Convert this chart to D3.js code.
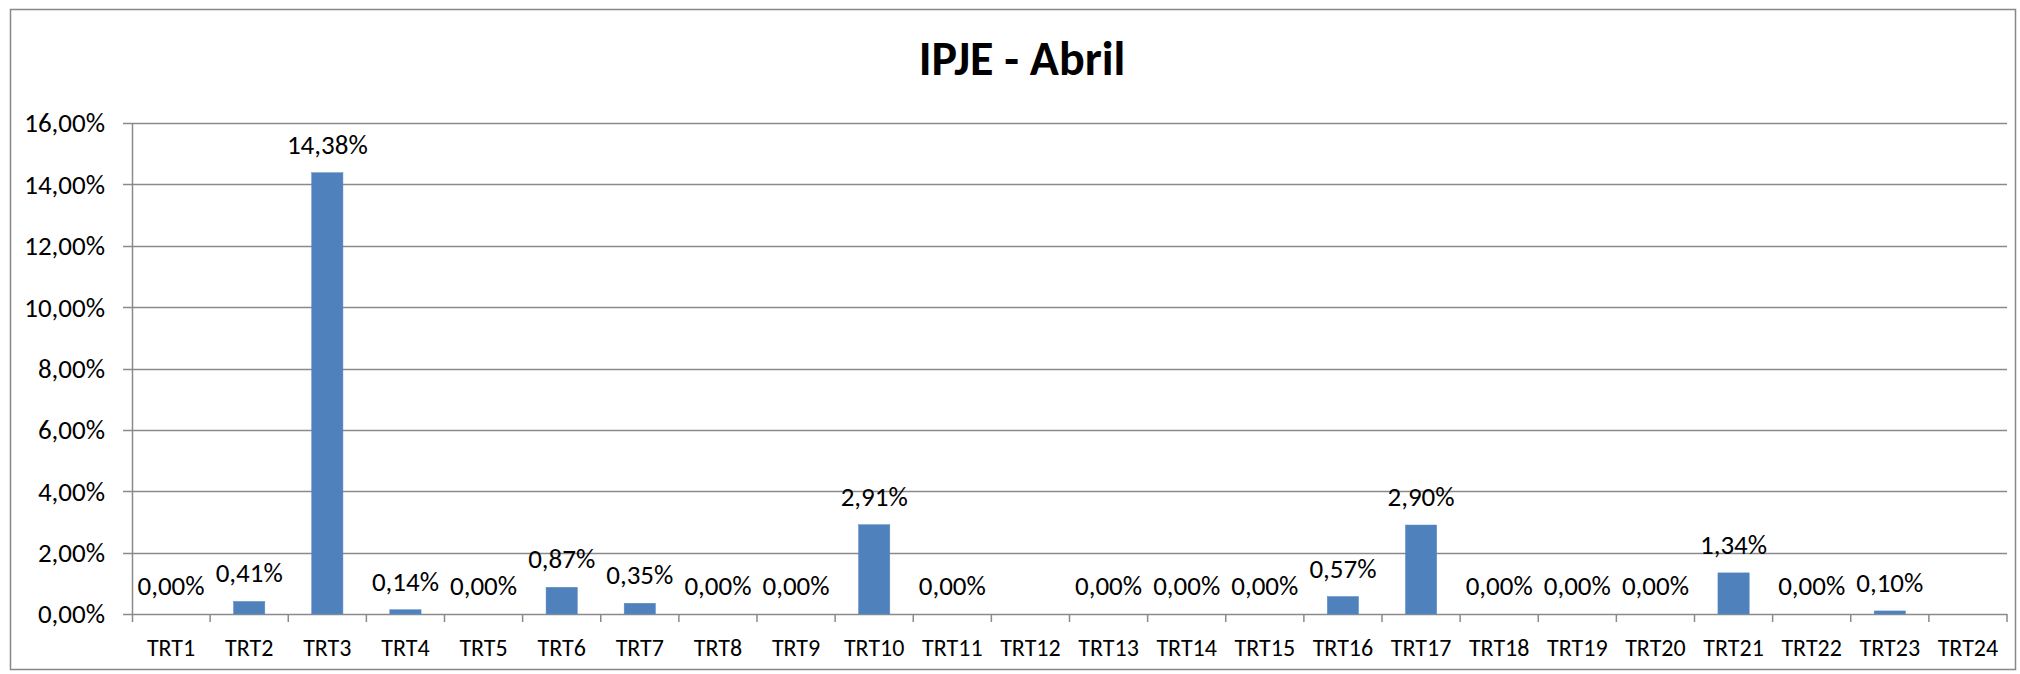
<!DOCTYPE html>
<html>
<head>
<meta charset="utf-8">
<script src="https://cdn.jsdelivr.net/npm/d3@7"></script>
<style>
  body { margin: 0; background: #fff; }
  text { font-family: Carlito, Calibri, Lato, "Open Sans", sans-serif; fill: #000; }
</style>
</head>
<body>
<script>
//categories and values (percent)
var categories = ["TRT1","TRT2","TRT3","TRT4","TRT5","TRT6","TRT7","TRT8","TRT9","TRT10","TRT11","TRT12",
                  "TRT13","TRT14","TRT15","TRT16","TRT17","TRT18","TRT19","TRT20","TRT21","TRT22","TRT23","TRT24"];
var values = [0, 0.41, 14.38, 0.14, 0, 0.87, 0.35, 0, 0, 2.91, 0, null,
              0, 0, 0, 0.57, 2.90, 0, 0, 0, 1.34, 0, 0.10, null];
var yTicks = [0, 2, 4, 6, 8, 10, 12, 14, 16];
var title = "IPJE - Abril";

var width = 2020, height = 674;
var plot = {left: 132, right: 2007, top: 123, bottom: 614};

var svg = d3.select("body").append("svg")
    .attr("width", width)
    .attr("height", height);

//outer chart frame
svg.append("rect")
    .attr("x", 10.5).attr("y", 9.5)
    .attr("width", 2005).attr("height", 660)
    .attr("fill", "#fff")
    .attr("stroke", "#878787")
    .attr("stroke-width", 1.5);

var x = d3.scaleBand()
    .domain(categories)
    .range([plot.left, plot.right])
    .paddingInner(0.6)
    .paddingOuter(0.3);

var xCat = d3.scaleBand()
    .domain(categories)
    .range([plot.left, plot.right]);

var y = d3.scaleLinear()
    .domain([0, 16])
    .range([plot.bottom, plot.top]);

var fmt = function(v){ return d3.format(".2f")(v).replace(".", ",") + "%"; };

//horizontal gridlines
svg.append("g").selectAll("line")
    .data(yTicks)
    .enter().append("line")
    .attr("x1", plot.left - 9).attr("x2", plot.right)
    .attr("y1", function(d){ return Math.round(y(d)) + 0.5; })
    .attr("y2", function(d){ return Math.round(y(d)) + 0.5; })
    .attr("stroke", "#8a8a8a")
    .attr("stroke-width", 1.5);

//y axis line
svg.append("line")
    .attr("x1", plot.left + 0.5).attr("x2", plot.left + 0.5)
    .attr("y1", plot.top).attr("y2", plot.bottom + 8)
    .attr("stroke", "#8a8a8a")
    .attr("stroke-width", 1.5);

//y labels
svg.append("g").selectAll("text")
    .data(yTicks)
    .enter().append("text")
    .attr("x", 105)
    .attr("y", function(d){ return y(d); })
    .attr("dy", "0.35em")
    .attr("text-anchor", "end")
    .style("font-size", "27px")
    .text(fmt);

//category tick marks
svg.append("g").selectAll("line")
    .data(categories)
    .enter().append("line")
    .attr("x1", function(d){ return xCat(d) + xCat.bandwidth(); })
    .attr("x2", function(d){ return xCat(d) + xCat.bandwidth(); })
    .attr("y1", plot.bottom).attr("y2", plot.bottom + 8)
    .attr("stroke", "#8a8a8a")
    .attr("stroke-width", 1.5);

//category labels
svg.append("g").selectAll("text")
    .data(categories)
    .enter().append("text")
    .attr("x", function(d){ return xCat(d) + xCat.bandwidth() / 2; })
    .attr("y", 656)
    .attr("text-anchor", "middle")
    .style("font-size", "24px")
    .text(function(d){ return d; });

var data = categories.map(function(c, i){ return {cat: c, val: values[i]}; })
    .filter(function(d){ return d.val !== null; });

//bars
svg.append("g").selectAll("rect")
    .data(data)
    .enter().append("rect")
    .attr("x", function(d){ return x(d.cat); })
    .attr("width", x.bandwidth())
    .attr("y", function(d){ return y(d.val); })
    .attr("height", function(d){ return y(0) - y(d.val); })
    .attr("fill", "#4f81bd")
    .attr("stroke", "#5a8ac4")
    .attr("stroke-width", 0.5);

//data labels
svg.append("g").selectAll("text")
    .data(data)
    .enter().append("text")
    .attr("x", function(d){ return xCat(d.cat) + xCat.bandwidth() / 2; })
    .attr("y", function(d){ return y(d.val) - 19; })
    .attr("text-anchor", "middle")
    .style("font-size", "27px")
    .text(function(d){ return fmt(d.val); });

//title
svg.append("text")
    .attr("x", 1022)
    .attr("y", 75)
    .attr("text-anchor", "middle")
    .style("font-size", "48px")
    .style("font-weight", "bold")
    .text(title);
</script>
</body>
</html>
